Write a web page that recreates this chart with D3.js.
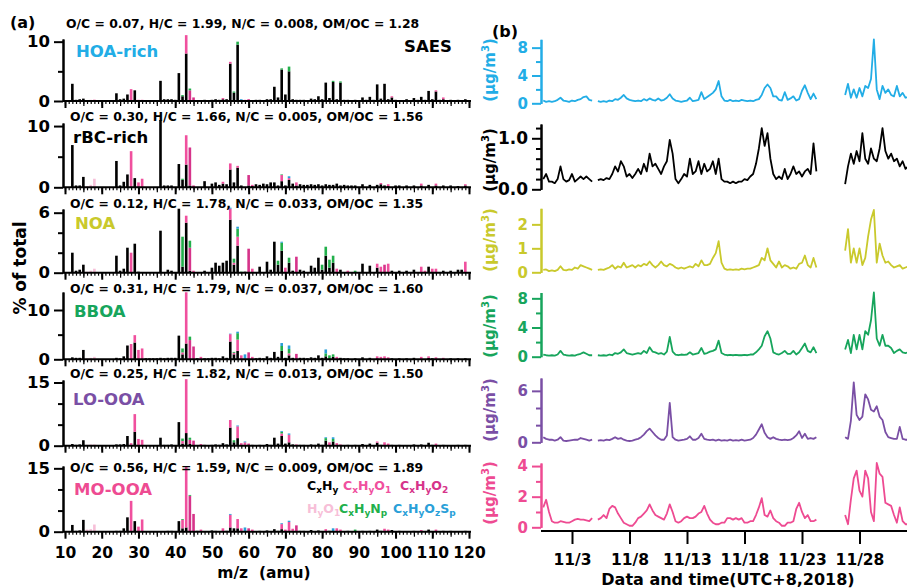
<!DOCTYPE html>
<html>
<head>
<meta charset="utf-8">
<script src="https://cdn.jsdelivr.net/npm/d3@7"></script>
<style>
body { margin: 0; background: #fff; }
text { font-family: "DejaVu Sans", sans-serif; font-weight: bold; }
</style>
</head>
<body>
<script>
var W = 907, H = 588;

// ---- factor names, colours, elemental ratios
var factors = ["HOA-rich", "rBC-rich", "NOA", "BBOA", "LO-OOA", "MO-OOA"];
var factorColors = ["#22ade6", "#000000", "#c9c92c", "#17a55c", "#7a4fa5", "#ee4b92"];
var ratios = [
  "O/C = 0.07, H/C = 1.99, N/C = 0.008, OM/OC = 1.28",
  "O/C = 0.30, H/C = 1.66, N/C = 0.005, OM/OC = 1.56",
  "O/C = 0.12, H/C = 1.78, N/C = 0.033, OM/OC = 1.35",
  "O/C = 0.31, H/C = 1.79, N/C = 0.037, OM/OC = 1.60",
  "O/C = 0.25, H/C = 1.82, N/C = 0.013, OM/OC = 1.50",
  "O/C = 0.56, H/C = 1.59, N/C = 0.009, OM/OC = 1.89"
];

// ion families (stack order)
var families = ["CxHy", "CxHyO1", "CxHyO2", "HyO1", "CxHyNp", "CxHyOzSp"];
var familyLabels = ["C{x}H{y}", "C{x}H{y}O{1}", "C{x}H{y}O{2}", "H{y}O{1}", "C{x}H{y}N{p}", "C{x}H{y}O{z}S{p}"];
var familyColors = ["#000000", "#f0509e", "#d6338a", "#f7bfd8", "#22b04b", "#2a9fd8"];

// ---- mass spectra, rows: [m/z, CxHy, CxHyO1, CxHyO2, HyO1, CxHyNp, CxHyOzSp] (% of total)
var hoaMS = [
  [12,2.9],[13,0.2],[14,0.3],[15,0.4],[17,0,0,0,0.2],[18,0,0,0,0.3],[24,1.3],[25,0.3],[26,0.4],[27,1.1],
  [28,0,2.0],[29,1.8],[30,0.1,0.1],[31,0,0.2],[36,3.4],[37,0.3],[38,0.3],[39,0.3],[40,0.2],[41,4.7],
  [42,0.8,0,0,0,0.2],[43,8.0,3.1],[44,0,0,1.8,0,0.3],[45,0,0,0.6],[46,0.1],[48,0.2],[50,0.2],[51,0.3],
  [52,0.2],[53,0.3,0.2],[54,0.3],[55,6.3,0.3],[56,1.4,0,0,0,0.2],[57,9.5,0,0,0,0.5],[58,0.1,0,0,0,0,0.2],
  [59,0.1,0.1],[60,0.1,0,0.2],[62,0.2],[63,0.2],[65,0.3],[66,0.3],[67,2.4],[68,0.6],[69,5.3,0,0,0,0.2],
  [70,1.1],[71,5.0,0,0,0,0.8],[72,0.3],[73,0.2],[74,0.2],[75,0.2],[77,0.4],[78,0.3],[79,0.8],[80,0.3],
  [81,3.1],[82,0.5],[83,3.2,0,0,0,0.2],[84,0.3],[85,3.1,0,0,0,0.2],[86,0.2],[87,0.2],[89,0.2],[91,0.6],
  [92,0.2],[93,0.7],[94,0.2],[95,2.8],[96,0.4],[97,2.9],[98,0.3],[99,0.6,0.2],[100,0.2],[103,0.3],
  [105,0.5],[106,0.2],[107,0.7],[108,0.2],[109,1.7],[110,0.3],[111,1.6,0.2],[112,0.2],[113,0.3,0.3],
  [115,0.2],[117,0.2],[119,0.3]
];
var rbcMS = [
  [12,6.9],[13,0.3],[14,0.3],[15,1.7],[16,0,0,0,0.2],[17,0,0,0,0.4],[18,0,0,0,1.4],[24,4.3],[25,0.3],
  [26,0.9],[27,2.1],[28,0,5.9],[29,1.5],[30,0,0.8],[31,0,1.4],[36,11.0],[37,0.3],[38,0.3],[39,0.3],
  [41,3.8],[42,1.2,0,0,0,0.2],[43,3.7,4.8],[44,0.3,0,6.2],[45,0,0,0.3],[48,1.0],[50,0.6],[51,0.8],
  [52,0.4],[53,0.6,0.3],[54,0.5],[55,2.9,1.0],[56,0.8],[57,3.2,0.3],[58,0.3],[60,0.3,0,1.7],[61,0.2,0.2],
  [62,0.5],[63,0.4],[64,0.6],[65,0.5],[66,0.8],[67,0.8],[68,0.3],[69,1.0,1.0,0,0,0.1],[70,0.3],
  [71,1.2,0.3,0,0,0,0.3],[72,0.6],[73,0.3,0.5],[74,0.5],[75,0.4],[76,0.4],[77,0.5],[78,0.4],[79,0.5],
  [80,0.3],[81,0.5],[82,0.4],[83,0.4],[84,0.6],[85,0.3],[86,0.4],[87,0.3],[88,0.3],[89,0.3],[91,0.5],
  [93,0.4],[95,0.4],[96,0.5,0.2],[97,0.3],[98,0.2,0.3],[100,0.3],[101,0.3],[103,0.3],[105,0.3],
  [107,0.3,0.3],[109,0.4],[111,0.3,0.3],[113,0.3],[115,0.3],[117,0.2],[119,0.3,0.2]
];
var noaMS = [
  [12,2.0],[13,0.2],[14,0.3],[15,0.8],[16,0,0,0,0.1],[17,0,0,0,0.2],[18,0,0,0,0.4],[24,1.7],[25,0.2],
  [26,0.4],[27,2.5],[28,0,2.0],[29,2.9],[30,0.1],[36,4.2],[38,0.3],[39,0.2],[41,6.4],[42,0.6,0,0,0,3.0],
  [43,5.0,0.7],[44,0.2,0,2.3,0,0.7],[45,0,0.2],[48,0.2],[50,0.5],[51,1.0],[52,0.7],[53,1.0],[54,1.2],
  [55,5.3,1.1,0,0,0,0.1],[56,0.8,0.2,0,0,0.4],[57,2.7,0.9,0,0,0.8,0.2],[58,0,0,0,0,0.1],[59,0.1],
  [60,0,0,2.4],[61,0,0.4],[63,0.6],[65,1.1],[66,0.3],[67,3.1],[68,0.8,0,0,0,0.4],[69,2.2,0,0,0,0.8,0.1],
  [70,0,0.5],[71,1.0,0,0,0,0.5],[72,0.2],[73,0,0,1.6],[74,0.3],[75,0.2],[77,0.7],[78,0.5],[79,1.5],
  [80,0.3,0,0,0,0.5],[81,1.7,0,0,0,0.9],[82,0.5,0,0,0,0.8],[83,1.0,0,0,0,0.7],[84,0,0.4],[85,0.3],
  [87,0,0.2],[89,0,0,0,0,0.2],[91,0.9],[93,0.7],[95,0.5,0.4],[96,0,0.6],[97,0,0,0.8],[98,0,0.9],[99,0.2],
  [101,0.2],[103,0.2],[105,0.3],[107,0,0.6],[108,0,0.2],[109,0.6],[110,0,0.4],[111,0,0.4],[113,0.2],
  [115,0.2],[117,0.3],[118,0.3],[119,0,1.1]
];
var bboaMS = [
  [12,0.4],[13,0.3],[14,0.3],[15,1.9],[16,0,0,0,0.2],[17,0,0,0,0.3],[18,0,0,0,0.5],[24,0.3],[25,0.2],
  [26,0.6],[27,2.8],[28,0,3.1],[29,3.4,1.5],[30,0,1.9],[31,0,2.2],[32,0.2],[33,0.2],[34,0.2],[35,0.2],
  [36,0.3],[37,0.2],[38,0.3],[39,0.3],[40,0.3],[41,4.8],[42,1.0,0.4,0,0,0.8],[43,3.2,10.4],
  [44,0,0,3.9,0,0.7],[45,0,0,2.6],[46,0.2],[47,0,0.5],[48,0.2],[49,0.2],[50,0.3],[51,0.3],[52,0.2],
  [53,0.6],[54,0.3],[55,3.6,1.5,0,0,0,0.1],[56,1.0,0.3,0,0,0.2],[57,1.7,2.3,0,0,1.3,0.3],[58,0,0.8],
  [59,0.1,0,0,0,0,0.9],[60,0,0,1.4],[61,0,0.5],[62,0.2],[63,0.3],[64,0.2],[65,0.6],[66,0.3],[67,1.5],
  [68,0.5],[69,1.7,0,0,0,1.0,0.6],[70,0.3],[71,0.8,0.4,0,0,0.9,0.7],[72,0.3],[73,0,0,1.1],[74,0.3],
  [75,0.3],[76,0.2],[77,0.4],[78,0.3],[79,0.8],[80,0.3],[81,0.6,0,0,0,0.6,0.8],[82,0.2,0,0,0,0.6],
  [83,0.5,0,0,0,0.5],[84,0,0.5],[85,0.3],[86,0.2],[87,0.2],[89,0.2],[91,0.4],[93,0.3],[95,0.2,0.4],
  [96,0,0.5],[97,0,0.6],[98,0,0.4],[99,0.2],[101,0.2],[103,0.2],[105,0.3],[107,0,0.5],[109,0.3,0.3],
  [110,0.2],[111,0,0.4],[113,0,0.3],[115,0.2],[117,0.2],[119,0.2]
];
var loooaMS = [
  [12,0.4],[13,0.2],[14,0.3],[15,1.3],[16,0,0,0,0.2],[17,0,0,0,0.3],[18,0,0,0,0.3],[24,0.3],[25,0.3],
  [26,0.4],[27,2.3],[28,0,0.6],[29,3.3,4.2],[30,0,1.6],[31,0,1.4],[36,1.9],[37,0.2],[38,0.2],[39,0.3],
  [41,5.6],[42,0.5,0.6,0,0,0.6],[43,3.0,12.8],[44,0.4,0,1.0,0,0.5],[45,0,0,1.2],[47,0,0.4],[48,0.2],
  [50,0.2],[51,0.3],[52,0.2],[53,0.6],[54,0.3],[55,4.3,1.8],[56,0.8,0,0,0,0.5],[57,1.8,2.8,0,0,0,0.2],
  [58,0,0.6],[59,0,0.8,0,0,0,0.2],[60,0,0,0.5],[61,0.2],[63,0.2],[65,0.4],[66,0.2],[67,1.9],[68,0.5],
  [69,2.3,0.6,0,0,0.4,0.2],[70,0.5],[71,0.8,1.8,0,0,0,0.3],[72,0.3],[73,0,0.3],[74,0.2],[75,0.2],
  [77,0.3],[78,0.2],[79,0.5],[80,0.2],[81,1.2,0,0,0,0.6,0.2],[82,0,0.8],[83,1.0,0,0,0,0.6,0.4],
  [84,0,0.6],[85,0,0.3],[87,0.2],[89,0.2],[91,0.4],[93,0.5],[95,0.7,0.3],[96,0.2],[97,0,0.8],[98,0,0.5],
  [99,0.2],[101,0.2],[105,0.3],[107,0.3],[109,0.7],[110,0.2],[111,0,0.5],[113,0.2],[117,0.2],[119,0.2]
];
var moooaMS = [
  [12,1.6],[13,0.2],[14,0.3],[15,2.8],[16,0,0,0,0.5],[17,0,0,0,0.6],[18,0,0,0,1.7],[24,0.2],[25,0.2],
  [26,0.8],[27,3.4],[28,0,7.3],[29,2.5],[30,0,1.2],[31,0,2.9],[38,0.2],[39,0.2],[41,2.5],
  [42,0.8,2.0,0,0,0.2],[43,1.0,14.4],[44,0,0,8.5,0,0.2],[45,0,0,4.2],[46,0.2],[47,0,0.5],[50,0.3],
  [51,0.2],[53,0,0.8],[54,0.2],[55,1.0,3.0,0,0,0,0.2],[56,0.8],[57,0.8,2.2],[58,0,0.8],
  [59,0.1,0,0,0,0,0.9],[60,0,0,0.8],[61,0,0.5],[63,0.2],[65,0.3],[67,0.6],[68,0.2],
  [69,0.6,1.2,0,0,0,0.2],[70,0,0.5],[71,0,2.3,0,0,0,0.3],[72,0,0.7],[73,0,0,1.5],[74,0.2],[75,0.2],
  [77,0.4],[79,0.3],[81,0,0.6],[82,0.2],[83,0,0,0,0,0,0.8],[84,0,0.8],[85,0,0.5],[87,0.2],
  [89,0,0,0,0,0.5],[91,0.2],[93,0.2],[95,0.5],[96,0.2],[97,0,0.7],[98,0,0.5],[99,0.4],[101,0.2],
  [105,0.2],[107,0,0.4],[109,0.5],[111,0,0.5],[113,0.2],[115,0.2],[119,0.2]
];
var spectra = [hoaMS, rbcMS, noaMS, bboaMS, loooaMS, moooaMS];
var mzTickLabels = [10, 20, 30, 40, 50, 60, 70, 80, 90, 100, 110, 120];

// ---- time series (ug/m3), 6-hourly, three continuous segments
var segStarts = [Date.UTC(2018, 9, 31, 12), Date.UTC(2018, 10, 5, 6), Date.UTC(2018, 10, 26, 18)];
var hoaTS = [
  [0.4,0.2,0.3,0.2,0.3,0.5,0.8,0.4,0.3,0.2,0.4,0.3,0.5,0.6,0.9,1.0,0.5,0.4],
  [0.3,0.2,0.3,0.2,0.4,0.3,0.6,0.5,0.8,1.2,0.7,0.5,0.4,0.3,0.4,0.3,0.6,0.4,0.7,0.5,
   0.4,0.7,0.4,0.5,0.8,1.3,0.7,0.4,0.3,0.2,0.3,0.4,0.8,0.3,0.4,0.5,1.6,0.6,0.9,1.2,
   1.5,2.0,3.2,1.0,0.4,0.3,0.5,0.3,0.4,0.3,0.5,0.4,0.3,0.4,0.3,0.5,0.6,1.2,2.2,2.7,
   2.2,1.0,1.0,0.5,0.4,1.6,0.5,0.7,1.0,0.4,0.6,1.8,2.6,1.5,0.6,1.4,0.6],
  [1.2,2.8,0.8,2.0,0.8,2.2,1.0,2.5,2.2,3.5,9.2,2.0,0.6,2.5,1.5,2.0,1.2,1.0,2.5,1.0,1.5,0.8,0.9]
];
var rbcTS = [
  [0.2,0.3,0.15,0.15,0.12,0.2,0.45,0.2,0.15,0.18,0.3,0.15,0.2,0.25,0.2,0.25,0.2,0.15],
  [0.18,0.2,0.18,0.22,0.2,0.3,0.45,0.35,0.55,0.45,0.25,0.3,0.22,0.3,0.4,0.3,0.5,0.35,0.7,0.45,
   0.5,0.4,0.3,0.45,0.55,0.97,0.7,0.2,0.12,0.2,0.3,0.25,0.6,0.3,0.35,0.55,0.3,0.5,0.35,0.4,
   0.55,0.3,0.6,0.2,0.15,0.15,0.12,0.15,0.12,0.15,0.15,0.2,0.18,0.25,0.3,0.5,0.8,1.2,0.85,1.1,
   0.6,0.3,0.2,0.25,0.2,0.4,0.2,0.3,0.45,0.3,0.35,0.25,0.35,0.4,0.3,0.9,0.35],
  [0.1,0.45,0.7,0.5,0.75,0.55,1.1,0.6,0.5,0.8,0.6,0.55,0.8,1.2,0.75,0.6,0.7,0.55,0.6,0.45,0.55,0.4,0.45]
];
var noaTS = [
  [0.1,0.12,0.05,0.08,0.05,0.1,0.25,0.1,0.08,0.12,0.1,0.2,0.15,0.3,0.25,0.2,0.15,0.1],
  [0.1,0.12,0.1,0.15,0.2,0.3,0.15,0.25,0.2,0.4,0.2,0.25,0.3,0.2,0.3,0.25,0.35,0.3,0.45,0.3,
   0.2,0.3,0.45,0.3,0.25,0.35,0.3,0.2,0.15,0.2,0.15,0.2,0.25,0.2,0.35,0.25,0.5,0.3,0.3,0.35,
   0.6,0.8,1.3,0.4,0.15,0.1,0.12,0.1,0.12,0.1,0.15,0.12,0.15,0.15,0.2,0.25,0.3,0.6,0.5,1.0,
   0.5,0.35,0.2,0.45,0.2,0.3,0.25,0.15,0.2,0.15,0.35,0.4,0.7,0.3,0.2,0.6,0.2],
  [0.9,1.8,0.4,1.0,0.4,1.0,0.3,0.6,1.5,2.2,2.6,0.4,1.2,0.7,0.4,0.45,0.3,0.2,0.25,0.3,0.15,0.2,0.25]
];
var bboaTS = [
  [0.3,0.2,0.15,0.2,0.15,0.3,0.8,0.3,0.2,0.15,0.2,0.15,0.3,0.4,0.6,0.4,0.2,0.2],
  [0.2,0.15,0.2,0.15,0.3,0.2,0.5,0.4,0.6,1.0,0.5,0.4,0.3,0.4,0.5,0.4,0.8,0.5,1.3,0.7,
   0.6,0.4,0.5,0.3,0.7,2.7,0.7,0.3,0.2,0.3,0.25,0.3,0.6,0.3,0.4,0.5,1.2,0.4,0.5,0.7,
   0.8,1.0,2.2,0.5,0.3,0.2,0.25,0.2,0.25,0.2,0.2,0.25,0.2,0.3,0.3,0.6,1.0,1.5,2.8,3.5,
   2.5,0.6,0.4,0.3,0.5,0.8,0.4,0.4,0.8,0.3,0.6,1.2,1.8,0.8,0.6,1.3,0.5],
  [1.0,2.3,0.5,3.0,1.0,3.0,1.0,3.5,3.0,5.0,8.8,2.5,1.5,3.0,1.5,1.5,1.2,0.5,0.8,1.0,0.6,0.5,0.6]
];
var loooaTS = [
  [0.6,0.4,0.3,0.3,0.2,0.3,0.6,0.2,0.15,0.2,0.25,0.3,0.3,0.5,0.4,0.3,0.2,0.3],
  [0.2,0.25,0.2,0.3,0.25,0.4,0.6,0.4,0.5,0.3,0.2,0.15,0.2,0.3,0.4,0.6,0.9,1.3,1.6,1.2,
   0.8,0.5,0.3,0.3,0.8,4.6,0.6,0.3,0.2,0.25,0.3,0.4,0.7,0.3,0.3,0.5,1.0,0.4,0.3,0.25,
   0.3,0.2,0.3,0.2,0.25,0.2,0.3,0.2,0.25,0.2,0.3,0.2,0.25,0.3,0.5,0.9,1.5,2.1,1.1,0.6,
   0.4,0.6,0.4,0.3,0.25,0.3,0.25,0.3,0.5,0.8,1.3,0.5,1.0,0.4,0.5,0.4,0.6],
  [0.6,0.4,2.5,7.0,3.2,2.6,3.0,5.6,5.0,3.8,3.6,4.2,3.0,2.6,1.2,0.6,0.5,0.4,0.4,1.8,0.4,0.3,0.3]
];
var moooaTS = [
  [1.3,1.8,1.0,0.4,0.3,0.3,0.4,0.35,0.3,0.3,0.4,0.5,0.55,0.5,0.5,0.45,0.4,0.6],
  [0.5,0.6,0.8,0.6,1.2,1.4,1.3,0.9,0.6,0.3,0.2,0.1,0.1,0.3,0.6,0.7,0.9,1.1,1.5,1.1,
   0.8,0.7,0.6,0.5,0.9,1.5,1.0,0.4,0.3,0.4,0.6,0.7,0.6,0.6,0.7,0.9,1.0,1.4,0.9,0.5,
   0.3,0.2,0.2,0.3,0.3,0.6,0.6,0.5,0.6,0.5,0.6,0.3,0.3,0.4,0.4,0.8,1.3,1.9,0.8,0.7,
   1.1,0.6,0.4,0.3,0.1,0.1,0.3,0.3,0.4,1.2,1.6,1.0,0.6,0.8,0.4,0.4,0.5],
  [0.8,0.2,1.8,3.2,3.7,2.4,2.0,3.7,3.2,1.0,0.4,4.2,3.5,3.3,1.6,1.5,1.4,0.8,0.3,1.3,0.4,0.2,0.2]
];
var series = [hoaTS, rbcTS, noaTS, bboaTS, loooaTS, moooaTS];
var dateTicks = [Date.UTC(2018,10,3), Date.UTC(2018,10,8), Date.UTC(2018,10,13),
                 Date.UTC(2018,10,18), Date.UTC(2018,10,23), Date.UTC(2018,10,28)];

// ---- layout (pixels)
var specLayout = [
  {base: 101,   top: 39,  max: 10.45, major: [0, 10], minor: [5],     ann: 28,  annX: 66, lab: 57,  labX: 76},
  {base: 187.3, top: 123, max: 10.5,  major: [0, 10], minor: [5],     ann: 121, annX: 70, lab: 143, labX: 73},
  {base: 272.7, top: 209, max: 6.37,  major: [0, 6],  minor: [2, 4],  ann: 208, annX: 70, lab: 229, labX: 75},
  {base: 359.3, top: 292, max: 13.65, major: [0, 10], minor: [5],     ann: 293, annX: 70, lab: 317, labX: 74},
  {base: 445.7, top: 380, max: 15.6,  major: [0, 15], minor: [5, 10], ann: 378, annX: 70, lab: 405, labX: 73},
  {base: 531.7, top: 466, max: 15.55, major: [0, 15], minor: [5, 10], ann: 472, annX: 70, lab: 495, labX: 74}
];
var tsLayout = [
  {base: 103.3, top: 39.3,  max: 9.2,  major: [0, 4, 8], minor: [2, 6],                    fmt: "d",   unitY: 70},
  {base: 189.3, top: 124,   max: 1.28, major: [0, 1],    minor: [0.2, 0.4, 0.6, 0.8, 1.2], fmt: ".1f", unitY: 160},
  {base: 272.3, top: 208.3, max: 2.67, major: [0, 1, 2], minor: [],                        fmt: "d",   unitY: 240},
  {base: 356.7, top: 292.5, max: 8.8,  major: [0, 4, 8], minor: [2, 6],                    fmt: "d",   unitY: 326},
  {base: 442.3, top: 378,   max: 7.5,  major: [0, 6],    minor: [2, 4],                    fmt: "d",   unitY: 410},
  {base: 527.3, top: 463,   max: 4.2,  major: [0, 2, 4], minor: [1, 3],                    fmt: "d",   unitY: 493}
];

var svg = d3.select("body").append("svg").attr("width", W).attr("height", H);

function styleAxis(g, color, size) {
  g.selectAll("path, line").attr("stroke", color).attr("stroke-width", 2);
  g.selectAll("text").attr("fill", color).style("font-size", size + "px")
    .style("font-family", "'DejaVu Sans', sans-serif").style("font-weight", "bold");
}

// sub/superscript helper for "C{x}H{y}" style labels
function richText(sel, str, mainSize, subSize, shift) {
  var down = false;
  str.split(/(\{[^}]*\})/).filter(function (s) { return s.length; }).forEach(function (s) {
    if (s[0] === "{") {
      sel.append("tspan").style("font-size", subSize + "px").attr("dy", shift).text(s.slice(1, -1));
      down = true;
    } else {
      var t = sel.append("tspan").style("font-size", mainSize + "px").text(s);
      if (down) { t.attr("dy", -shift); down = false; }
    }
  });
}

// ================= (a) mass spectra =================
var xMz = d3.scaleLinear().domain([10, 120]).range([65, 469]);
var barW = 2.6;

spectra.forEach(function (rows, i) {
  var L = specLayout[i];
  var y = d3.scaleLinear().domain([0, L.max]).range([L.base, L.top]);
  var table = rows.map(function (r) {
    var o = {mz: r[0]};
    families.forEach(function (k, j) { o[k] = r[j + 1] || 0; });
    return o;
  });
  var stacked = d3.stack().keys(families)(table);
  var g = svg.append("g");
  g.selectAll("g.fam").data(stacked).enter().append("g")
    .attr("fill", function (d, j) { return familyColors[j]; })
    .selectAll("rect").data(function (d) { return d.filter(function (p) { return p[1] > p[0]; }); })
    .enter().append("rect")
    .attr("x", function (p) { return xMz(p.data.mz) - barW / 2; })
    .attr("width", barW)
    .attr("y", function (p) { return y(p[1]); })
    .attr("height", function (p) { return y(p[0]) - y(p[1]); });

  // x ticks (every amu, 5 and 10)
  var allMz = d3.range(10, 121);
  [[allMz, 3], [allMz.filter(function (m) { return m % 5 === 0; }), 5]].forEach(function (t) {
    var ax = svg.append("g").attr("transform", "translate(0," + L.base + ")")
      .call(d3.axisBottom(xMz).tickValues(t[0]).tickSize(t[1]).tickFormat(""));
    ax.select(".domain").remove();
    ax.selectAll("text").remove();
    ax.selectAll("line").attr("stroke", "#000").attr("stroke-width", 1.2);
  });
  var ax10 = svg.append("g").attr("transform", "translate(0," + L.base + ")")
    .call(d3.axisBottom(xMz).tickValues(mzTickLabels).tickSize(7).tickPadding(8)
      .tickFormat(d3.format("d")));
  ax10.select(".domain").remove();
  if (i !== 5) ax10.selectAll("text").remove();
  styleAxis(ax10, "#000", 15.5);
  svg.append("line").attr("x1", 63).attr("x2", 471).attr("y1", L.base).attr("y2", L.base)
    .attr("stroke", "#000").attr("stroke-width", 2);

  // y axis
  var yMinor = svg.append("g").attr("transform", "translate(63,0)")
    .call(d3.axisLeft(y).tickValues(L.minor).tickSize(5).tickSizeOuter(0));
  yMinor.selectAll("text").remove();
  styleAxis(yMinor, "#000", 16);
  var yMajor = svg.append("g").attr("transform", "translate(63,0)")
    .call(d3.axisLeft(y).tickValues(L.major).tickSize(9).tickSizeOuter(0).tickPadding(4).tickFormat(d3.format("d")));
  styleAxis(yMajor, "#000", 16.5);

  svg.append("text").attr("x", L.annX).attr("y", L.ann).style("font-size", "12.4px").text(ratios[i]);
  svg.append("text").attr("x", L.labX).attr("y", L.lab).style("font-size", "16.5px")
    .attr("fill", factorColors[i]).text(factors[i]);
});

svg.append("text").attr("x", 10).attr("y", 28).style("font-size", "16px").text("(a)");
svg.append("text").attr("x", 404).attr("y", 52).style("font-size", "16.5px").text("SAES");
svg.append("text").attr("transform", "translate(26,268) rotate(-90)").attr("text-anchor", "middle")
  .style("font-size", "17px").text("% of total");
svg.append("text").attr("x", 264).attr("y", 578).attr("text-anchor", "middle")
  .style("font-size", "15.5px").text("m/z\u00a0\u00a0(amu)");

// legend
var legendPos = [[307, 490], [343, 490], [400, 490], [307, 513], [339, 513], [393, 513]];
familyLabels.forEach(function (lab, j) {
  var t = svg.append("text").attr("x", legendPos[j][0]).attr("y", legendPos[j][1])
    .attr("fill", familyColors[j]);
  richText(t, lab, 12.5, 9, 3);
});

// ================= (b) time series =================
var xT = d3.scaleUtc().domain([new Date(dateTicks[0]), new Date(dateTicks[5])]).range([572, 859.5]);
var STEP = 6 * 3600 * 1000;

series.forEach(function (segs, i) {
  var L = tsLayout[i];
  var col = factorColors[i];
  var y = d3.scaleLinear().domain([0, L.max]).range([L.base, L.top]);
  var line = d3.line().x(function (d) { return xT(d.t); }).y(function (d) { return y(d.v); });
  segs.forEach(function (vals, s) {
    var pts = vals.map(function (v, k) { return {t: new Date(segStarts[s] + k * STEP), v: v}; });
    svg.append("path").datum(pts).attr("d", line).attr("fill", "none")
      .attr("stroke", col).attr("stroke-width", 1.8).attr("stroke-linejoin", "round");
  });
  var yMinor = svg.append("g").attr("transform", "translate(541,0)")
    .call(d3.axisLeft(y).tickValues(L.minor).tickSize(5).tickSizeOuter(0));
  yMinor.selectAll("text").remove();
  styleAxis(yMinor, col, 15);
  var yMajor = svg.append("g").attr("transform", "translate(541,0)")
    .call(d3.axisLeft(y).tickValues(L.major).tickSize(9).tickSizeOuter(0).tickPadding(4)
      .tickFormat(d3.format(L.fmt)));
  styleAxis(yMajor, col, i === 1 ? 17 : 15);

  var u = svg.append("text").attr("transform", "translate(495," + L.unitY + ") rotate(-90)")
    .attr("text-anchor", "middle").attr("fill", col).style("font-size", "15px");
  u.append("tspan").text("(\u03bcg/m");
  u.append("tspan").style("font-size", "10px").attr("dy", -6).text("3");
  u.append("tspan").attr("dy", 6).text(")");
});

var xAx = svg.append("g").attr("transform", "translate(0,531)")
  .call(d3.axisBottom(xT).tickValues(dateTicks.map(function (d) { return new Date(d); }))
    .tickSize(13).tickPadding(10)
    .tickFormat(function (d) { return (d.getUTCMonth() + 1) + "/" + d.getUTCDate(); }));
xAx.select(".domain").remove();
styleAxis(xAx, "#000", 15.5);
svg.append("line").attr("x1", 541).attr("x2", W).attr("y1", 531).attr("y2", 531)
  .attr("stroke", "#000").attr("stroke-width", 2);

svg.append("text").attr("x", 728).attr("y", 585).attr("text-anchor", "middle")
  .style("font-size", "16px").text("Data and time(UTC+8,2018)");
svg.append("text").attr("x", 492).attr("y", 37).style("font-size", "16px").text("(b)");
</script>
</body>
</html>
